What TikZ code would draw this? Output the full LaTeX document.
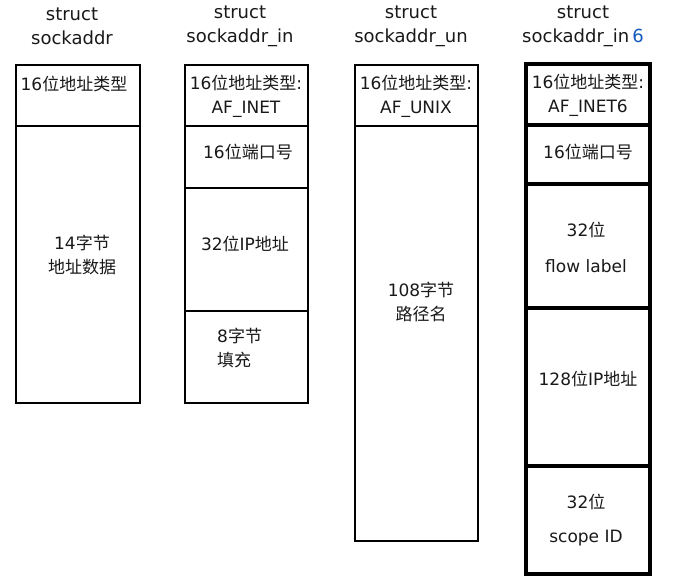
\documentclass[tikz,border=0pt]{standalone}
\usepackage{fontspec}
\setmainfont{DejaVu Sans}
\newfontfamily\cjk{Noto Sans CJK SC}
\newcommand{\zh}[1]{{\cjk #1}}
\usetikzlibrary{fit}
\definecolor{sixblue}{RGB}{20,90,190}
\tikzset{
  cellbox/.style={draw=black, line width=2.6pt, fill=white, inner sep=0pt, rectangle},
  thickcell/.style={cellbox, line width=3.2pt},
  lbl/.style={inner sep=0pt, font=\fontsize{17}{24}\selectfont, align=center, text=black!90},
  ttl/.style={lbl, font=\fontsize{18}{24}\selectfont},
  lblleft/.style={lbl, align=left, anchor=west},
}
\begin{document}
\begin{tikzpicture}[x=1pt,y=-1pt]
\useasboundingbox (0,0) rectangle (674,586);
\fill[white] (0,0) rectangle (674,586);

% titles
\node[ttl] (t1) at (72,26) {struct\\sockaddr};
\node[ttl] (t2) at (240,26) {struct\\sockaddr\_in};
\node[ttl] (t3) at (411,26) {struct\\sockaddr\_un};
\node[ttl] (t4) at (583,26) {struct\\sockaddr\_in\,\textcolor{sixblue}{6}};

% column 1
\node[cellbox, fit={(16,65) (140,126)}] (c1h) {};
\node[cellbox, fit={(16,126) (140,403)}] (c1b) {};
\node[lbl] at (74,84) {16\zh{位地址类型}};
\node[lbl] at (82,255) {14\zh{字节}\\\zh{地址数据}};

% column 2
\node[cellbox, fit={(185,65) (308,126)}] (c2h) {};
\node[cellbox, fit={(185,126) (308,188)}] (c2p) {};
\node[cellbox, fit={(185,188) (308,311)}] (c2a) {};
\node[cellbox, fit={(185,311) (308,403)}] (c2z) {};
\node[lbl] at (246,96) {16\zh{位地址类型}:\\AF\_INET};
\node[lbl] at (248,152) {16\zh{位端口号}};
\node[lbl] at (245,244) {32\zh{位}IP\zh{地址}};
\node[lblleft] at (217,348) {8\zh{字节}\\\zh{填充}};

% column 3
\node[cellbox, fit={(355,65) (478,126)}] (c3h) {};
\node[cellbox, fit={(355,126) (478,541)}] (c3b) {};
\node[lbl] at (416,96) {16\zh{位地址类型}:\\AF\_UNIX};
\node[lbl] at (421,302) {108\zh{字节}\\\zh{路径名}};

% column 4
\node[thickcell, fit={(526,64) (650,125)}] (c4h) {};
\node[thickcell, fit={(526,125) (650,184)}] (c4p) {};
\node[thickcell, fit={(526,184) (650,308)}] (c4f) {};
\node[thickcell, fit={(526,308) (650,466)}] (c4a) {};
\node[thickcell, fit={(526,466) (650,574)}] (c4s) {};
\node[lbl] at (588,95) {16\zh{位地址类型}:\\AF\_INET6};
\node[lbl] at (588,152) {16\zh{位端口号}};
\node[lbl, font=\fontsize{17}{36}\selectfont] at (586,247) {32\zh{位}\\flow label};
\node[lbl] at (588,379) {128\zh{位}IP\zh{地址}};
\node[lbl, font=\fontsize{17}{34}\selectfont] at (586,520) {32\zh{位}\\scope ID};
\end{tikzpicture}
\end{document}
